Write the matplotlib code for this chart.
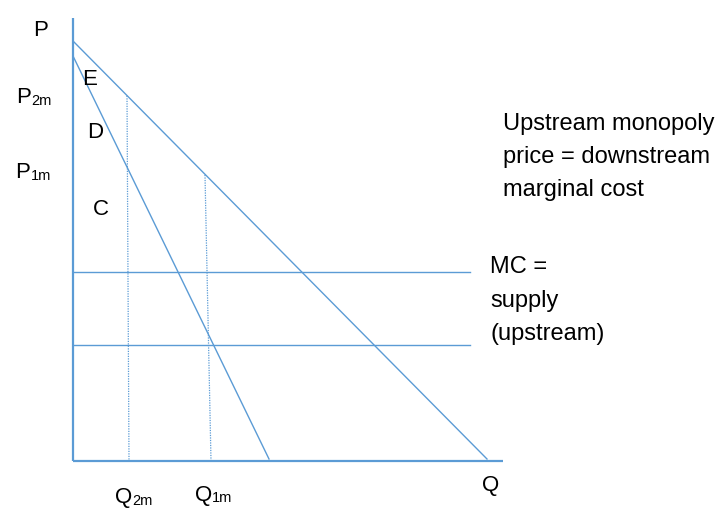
import matplotlib.pyplot as plt

plt.rcParams['font.family'] = ['Liberation Sans', 'DejaVu Sans']

BLUE = '#5b9bd5'

# Diagram units: origin at the axes corner, one unit per pixel
p_axis_top = 443
q_axis_end = 430

# Downstream demand and marginal revenue (price intercept, quantity intercept)
demand = (420, 414)
marginal_rev = (405, 196)

# Upstream MC / supply levels and how far they run
mc_levels = [189, 116]
mc_end = 397

# Monopoly quantities (top, bottom) - the guide lines lean a little
q2m = (54, 56)
q1m = (132, 138)

right_note = ["Upstream monopoly", "price = downstream", "marginal cost"]
mc_note = ["MC =", "supply", "(upstream)"]


def price_on(line, q):
    p0, q0 = line
    return p0 * (1 - q / q0)


fig = plt.figure(figsize=(7.2, 5.09), dpi=100)
ax = fig.add_axes([0, 0, 1, 1])
ax.set_xlim(-73, 647)
ax.set_ylim(-48, 461)
ax.axis('off')

# axes
ax.plot([0, 0], [0, p_axis_top], color=BLUE, lw=1.6, solid_capstyle='butt')
ax.plot([0, q_axis_end], [0, 0], color=BLUE, lw=1.6, solid_capstyle='butt')

# demand and MR lines
for p0, q0 in (demand, marginal_rev):
    ax.plot([0, q0], [p0, 2], color=BLUE, lw=1.0)

# MC lines
for level in mc_levels:
    ax.plot([0, mc_end], [level, level], color=BLUE, lw=1.0)

# dotted guides up to the demand curve
for top, bottom in (q2m, q1m):
    ax.plot([top, bottom], [price_on(demand, top), 0], color=BLUE,
            lw=0.9, linestyle=(0, (1, 1)))

# labels
ax.text(-32, 425, "P", fontsize=16, ha='center', va='baseline')
ax.text(-57, 358, "P", fontsize=16, va='baseline')
ax.text(-42, 356, "2m", fontsize=10.5, va='baseline')
ax.text(-58, 283, "P", fontsize=16, va='baseline')
ax.text(-42, 281, "1m", fontsize=10.5, va='baseline')
ax.text(9, 376, "E", fontsize=16, va='baseline')
ax.text(14, 323, "D", fontsize=16, va='baseline')
ax.text(20, 246, "C", fontsize=16, va='baseline')

ax.text(42, -42, "Q", fontsize=16, va='baseline')
ax.text(59, -44, "2m", fontsize=10.5, va='baseline')
ax.text(122, -40, "Q", fontsize=16, va='baseline')
ax.text(139, -41, "1m", fontsize=10.5, va='baseline')
ax.text(409, -30, "Q", fontsize=16, va='baseline')

for i, line in enumerate(mc_note):
    ax.text(417, 188 - 33.5 * i, line, fontsize=17, va='baseline')

for i, line in enumerate(right_note):
    ax.text(430, 331 - 33 * i, line, fontsize=17, va='baseline')

fig.savefig('out.png', dpi=100)
